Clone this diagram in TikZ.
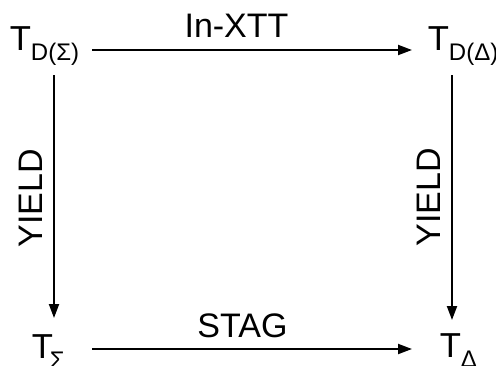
\documentclass[tikz,border=0pt]{standalone}
\usepackage{fontspec}
\setmainfont{Liberation Sans}
\usetikzlibrary{arrows.meta,calc}
\newcommand\mysubscr[1]{\raisebox{-7.5pt}{\fontsize{18}{18}\selectfont #1}}
\begin{document}
\begin{tikzpicture}[x=0.75pt,y=-0.75pt,
  arr/.style={line width=1.5pt,-{Triangle[length=10.5pt,width=7.5pt]}},
  obj/.style={inner sep=0pt,anchor=base west,font=\fontsize{26}{26}\selectfont},
  lbl/.style={inner sep=0pt,anchor=base,font=\fontsize{25.5}{26}\selectfont}]
\useasboundingbox (0,0) rectangle (496,365);
\node[obj] (tds) at (9.5,50) {T\mysubscr{D(Σ)}};
\node[obj] (tdd) at (427.5,50) {T\mysubscr{D(Δ)}};
\node[obj] (ts) at (31.5,358) {T\kern-2.25pt\mysubscr{Σ}};
\node[obj] (td) at (439.5,357) {T\mysubscr{Δ}};
\node[lbl] (inxtt) at (236.5,37) {In-XTT};
\node[lbl] (stag) at (242.5,337) {STAG};
\node[lbl,rotate=90] (yl) at (42,198.5) {YIELD};
\node[lbl,rotate=90] (yr) at (440,197.5) {YIELD};
\draw[arr] ($(tds.base west)+(82.5,0)$) -- ($(tdd.base west)+(-15.5,0)$);
\draw[arr] ($(ts.base west)+(60.5,-9)$) -- ($(td.base west)+(-27.5,-8)$);
\draw[arr] ($(tds.base west)+(44.5,25)$) -- ($(ts.base west)+(22.5,-40)$);
\draw[arr] ($(tdd.base west)+(24.5,25)$) -- ($(td.base west)+(12.5,-37)$);
\end{tikzpicture}
\end{document}
